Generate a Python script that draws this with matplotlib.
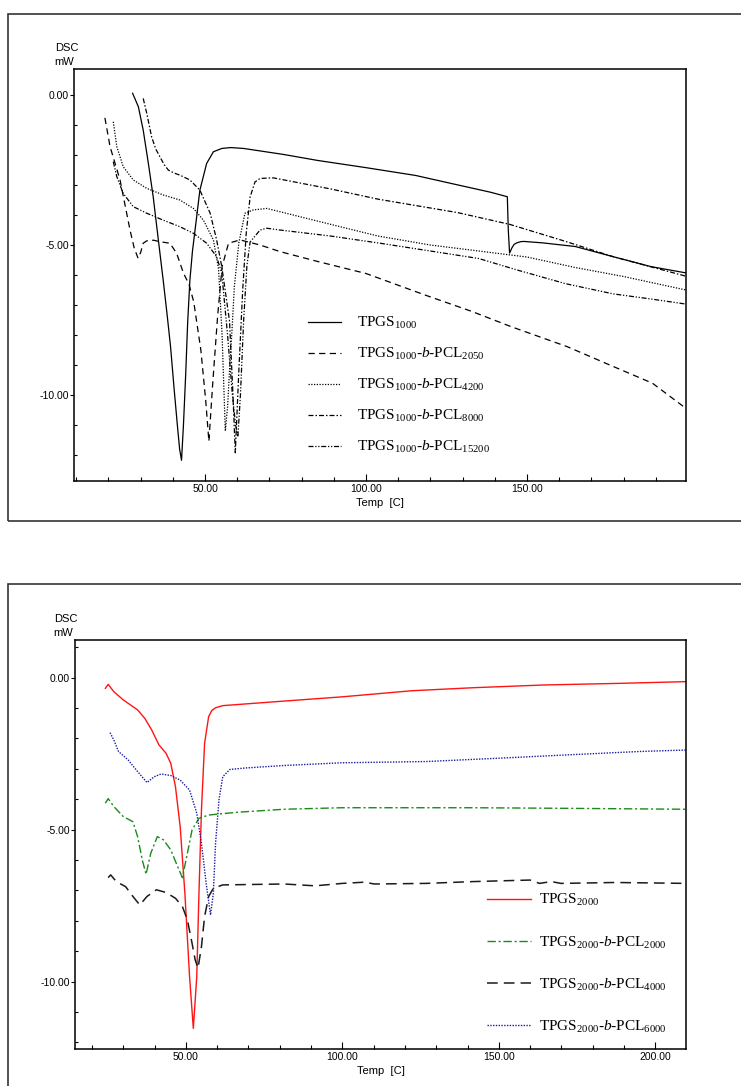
import matplotlib
matplotlib.use("Agg")
import matplotlib.pyplot as plt
from matplotlib.patches import Rectangle
from matplotlib.ticker import MultipleLocator, FixedLocator, FixedFormatter
from matplotlib.font_manager import FontProperties

plt.rcParams['mathtext.fontset'] = 'custom'
plt.rcParams['mathtext.rm'] = 'Liberation Serif'
plt.rcParams['mathtext.it'] = 'Liberation Serif:italic'

# ---------------- top panel: TPGS1000 series ----------------
t_1000 = [27.5, 29.3, 30.8, 32.4, 33.9, 35.5, 37.0, 38.2, 39.3, 40.4, 41.4, 42.1, 42.7,
          43.3, 44.0, 44.6, 45.3, 46.1, 46.9, 48.4, 50.5, 52.6, 55.2, 58.0, 62.0, 74.4,
          85.0, 100.0, 115.4, 127.0, 138.7, 143.9, 144.2, 144.6, 145.3, 146.0, 146.8,
          148.0, 149.0, 155.0, 165.0, 176.8, 188.5, 199.4]
d_1000 = [0.06, -0.39, -1.17, -2.28, -3.39, -4.83, -6.17, -7.3, -8.4, -9.8, -11.0, -11.8, -12.18,
          -11.0, -9.3, -7.6, -6.17, -5.2, -4.5, -3.17, -2.28, -1.89, -1.78, -1.75, -1.78, -1.98,
          -2.18, -2.42, -2.68, -2.96, -3.24, -3.39, -4.5, -5.27, -5.1, -4.98, -4.93,
          -4.89, -4.88, -4.93, -5.05, -5.39, -5.72, -5.93]

t_2050 = [18.9, 20.5, 23.6, 26.7, 28.0, 29.2, 30.0, 30.8, 31.9, 34.0, 36.0, 39.1, 41.2,
          43.3, 45.0, 46.5, 48.7, 50.2, 51.2, 52.4, 53.9, 55.3, 57.3, 60.9, 67.1, 73.3,
          85.0, 100.0, 118.4, 133.0, 145.0, 162.5, 177.0, 189.0, 199.4]
d_2050 = [-0.76, -1.72, -2.83, -4.5, -5.1, -5.44, -5.25, -4.94, -4.86, -4.84, -4.89, -4.94, -5.28,
          -5.94, -6.3, -6.9, -8.5, -10.17, -11.55, -9.6, -7.39, -5.72, -4.94, -4.83, -5.0, -5.22,
          -5.55, -5.95, -6.67, -7.22, -7.72, -8.39, -9.06, -9.61, -10.45]

t_4200 = [21.5, 22.6, 24.6, 27.7, 31.9, 37.0, 42.2, 46.4, 49.5, 52.6, 54.2, 55.3, 56.3,
          57.0, 57.6, 58.4, 59.1, 60.5, 62.4, 65.0, 69.2, 73.3, 89.0, 103.7, 120.0,
          135.0, 150.0, 165.0, 180.0, 199.4]
d_4200 = [-0.89, -1.72, -2.39, -2.83, -3.11, -3.33, -3.5, -3.78, -4.17, -4.83, -5.8, -8.0, -11.2,
          -10.4, -9.2, -7.8, -6.4, -4.93, -3.94, -3.83, -3.78, -3.89, -4.31, -4.7, -5.0,
          -5.2, -5.4, -5.75, -6.05, -6.5]

t_8000 = [30.8, 31.9, 33.4, 34.7, 36.0, 37.3, 38.6, 40.4, 42.2, 45.3, 48.4, 51.6, 53.6,
          55.2, 57.6, 58.6, 59.4, 60.5, 61.7, 62.8, 64.0, 65.5, 67.1, 71.2, 89.0, 103.7,
          128.5, 144.6, 162.0, 176.8, 199.4]
d_8000 = [-0.11, -0.61, -1.39, -1.8, -2.06, -2.32, -2.5, -2.6, -2.67, -2.83, -3.17, -3.94, -4.83,
          -5.72, -7.53, -9.8, -11.93, -9.2, -6.5, -4.6, -3.4, -2.9, -2.78, -2.76, -3.13, -3.47,
          -3.92, -4.31, -4.88, -5.39, -6.04]

t_15200 = [21.5, 22.6, 24.6, 27.7, 31.9, 37.0, 42.2, 46.4, 50.5, 53.6, 55.2, 57.0, 58.5,
           59.5, 60.2, 61.0, 62.0, 63.0, 64.0, 67.1, 69.2, 73.3, 89.0, 103.7, 120.0,
           135.0, 147.5, 162.0, 176.8, 188.5, 199.4]
d_15200 = [-2.22, -2.72, -3.28, -3.72, -3.94, -4.17, -4.39, -4.61, -4.94, -5.39, -5.94, -8.0, -10.0,
           -11.0, -11.4, -10.0, -7.5, -5.7, -4.9, -4.5, -4.44, -4.5, -4.7, -4.93, -5.2,
           -5.45, -5.85, -6.29, -6.63, -6.8, -6.97]

# ---------------- bottom panel: TPGS2000 series ----------------
t_2000 = [24.3, 25.2, 27.0, 30.0, 34.6, 36.9, 39.1, 41.4, 43.7, 45.2, 46.7, 48.2, 49.7,
          51.2, 52.4, 53.5, 54.2, 55.0, 56.0, 57.3, 58.3, 59.5, 61.8, 81.4, 100.0, 122.2,
          141.9, 164.5, 187.2, 209.9]
d_2000 = [-0.35, -0.22, -0.46, -0.73, -1.06, -1.34, -1.72, -2.21, -2.49, -2.82, -3.59, -4.9, -7.09,
          -9.84, -11.54, -9.84, -7.09, -4.35, -2.16, -1.28, -1.08, -0.99, -0.92, -0.77, -0.63, -0.43,
          -0.33, -0.24, -0.19, -0.13]

t_b2000 = [24.3, 25.2, 27.0, 30.0, 33.1, 34.6, 36.1, 37.3, 38.8, 40.9, 42.9, 45.2, 47.4,
           48.9, 50.5, 52.0, 54.2, 57.3, 66.3, 81.4, 100.0, 111.7, 141.9, 172.1, 209.9]
d_b2000 = [-4.13, -3.98, -4.24, -4.57, -4.74, -5.23, -6.0, -6.47, -5.78, -5.23, -5.34, -5.67, -6.22,
           -6.58, -5.78, -5.01, -4.63, -4.52, -4.43, -4.33, -4.28, -4.28, -4.28, -4.3, -4.33]

t_b4000 = [25.2, 26.0, 27.8, 30.8, 33.1, 35.3, 37.6, 40.6, 43.7, 46.7, 48.9, 50.5, 52.0,
           53.0, 53.9, 55.0, 56.0, 57.3, 58.8, 61.8, 81.4, 91.3, 100.0, 107.1, 110.2,
           126.8, 141.9, 160.0, 163.0, 166.8, 169.8, 187.2, 209.9]
d_b4000 = [-6.58, -6.49, -6.71, -6.88, -7.2, -7.48, -7.2, -6.98, -7.07, -7.26, -7.53, -7.97, -8.74,
           -9.29, -9.56, -8.85, -7.86, -7.2, -6.93, -6.82, -6.79, -6.85, -6.77, -6.73, -6.79,
           -6.77, -6.71, -6.66, -6.77, -6.71, -6.77, -6.74, -6.77]

t_b6000 = [25.8, 27.0, 28.5, 31.6, 34.6, 37.6, 39.9, 42.1, 45.2, 48.2, 51.2, 53.5, 55.0,
           56.5, 57.9, 58.8, 59.5, 60.6, 61.8, 64.1, 69.3, 81.4, 100.0, 126.8, 150.0,
           172.1, 194.8, 209.9]
d_b6000 = [-1.81, -2.05, -2.43, -2.71, -3.09, -3.45, -3.26, -3.17, -3.22, -3.37, -3.7, -4.46, -5.45,
           -6.77, -7.81, -7.09, -5.45, -4.02, -3.26, -3.02, -2.97, -2.89, -2.8, -2.76, -2.65,
           -2.54, -2.43, -2.38]

W, H = 741, 1086


def box(l, t, r, b):
    return [l / W, 1 - b / H, (r - l) / W, (b - t) / H]


fig = plt.figure(figsize=(W / 100, H / 100), dpi=100)

# outer frames around each panel
fig.patches.append(Rectangle((8 / W, 1 - 521 / H), 740 / W, 507 / H, transform=fig.transFigure,
                             fill=False, lw=1.2, ec='#333333'))
fig.patches.append(Rectangle((8 / W, 1 - 1095 / H), 740 / W, 511 / H, transform=fig.transFigure,
                             fill=False, lw=1.2, ec='#333333'))

ax1 = fig.add_axes(box(74, 69, 686, 481))
ax2 = fig.add_axes(box(75, 640, 686, 1049))

lw = 0.9
ax1.plot(t_1000, d_1000, color='black', lw=lw, label=r'TPGS$_{1000}$')
ax1.plot(t_2050, d_2050, color='black', lw=lw, ls=(0, (5, 3.5)),
         label=r'TPGS$_{1000}$-$b$-PCL$_{2050}$')
ax1.plot(t_4200, d_4200, color='black', lw=lw, ls=(0, (1, 1.2)),
         label=r'TPGS$_{1000}$-$b$-PCL$_{4200}$')
ax1.plot(t_8000, d_8000, color='black', lw=lw, ls=(0, (4, 1.6, 1.2, 1.6)),
         label=r'TPGS$_{1000}$-$b$-PCL$_{8000}$')
ax1.plot(t_15200, d_15200, color='black', lw=lw, ls=(0, (4, 1.4, 1, 1.4, 1, 1.4)),
         label=r'TPGS$_{1000}$-$b$-PCL$_{15200}$')

ax2.plot(t_2000, d_2000, color='#ff1414', lw=1.0, label=r'TPGS$_{2000}$')
ax2.plot(t_b2000, d_b2000, color='#1a8a1a', lw=1.0, ls=(0, (6, 2, 1.5, 2)),
         label=r'TPGS$_{2000}$-$b$-PCL$_{2000}$')
ax2.plot(t_b4000, d_b4000, color='#1a1a1a', lw=1.1, ls=(0, (7, 4)),
         label=r'TPGS$_{2000}$-$b$-PCL$_{4000}$')
ax2.plot(t_b6000, d_b6000, color='#1a1aa0', lw=1.0, ls=(0, (1, 1)),
         label=r'TPGS$_{2000}$-$b$-PCL$_{6000}$')

ax1.set_xlim(9.3, 199.4)
ax1.set_ylim(-12.87, 0.87)
ax2.set_xlim(14.6, 209.8)
ax2.set_ylim(-12.22, 1.24)

tickfont = {'family': 'Liberation Sans', 'size': 7.5}
headfont = {'family': 'Liberation Sans', 'size': 8}
for ax, xt in [(ax1, [50, 100, 150]), (ax2, [50, 100, 150, 200])]:
    ax.xaxis.set_major_locator(FixedLocator(xt))
    ax.xaxis.set_major_formatter(FixedFormatter(['%.2f' % v for v in xt]))
    ax.xaxis.set_minor_locator(MultipleLocator(10))
    ax.yaxis.set_major_locator(FixedLocator([-10, -5, 0]))
    ax.yaxis.set_major_formatter(FixedFormatter(['-10.00', '-5.00', '0.00']))
    ax.yaxis.set_minor_locator(MultipleLocator(1))
    ax.tick_params(axis='x', which='major', direction='in', length=5, width=0.8, pad=2)
    ax.tick_params(axis='x', which='minor', direction='in', length=3, width=0.8)
    ax.tick_params(axis='y', which='major', direction='out', length=3, width=0.8, pad=0.5)
    ax.tick_params(axis='y', which='minor', direction='in', length=2, width=0.8)
    for lab in ax.get_xticklabels() + ax.get_yticklabels():
        lab.set_fontfamily('Liberation Sans')
        lab.set_fontsize(7.5)
    for sp in ax.spines.values():
        sp.set_linewidth(1.1)
    ax.set_xlabel('Temp  [C]', fontdict=headfont, labelpad=3)

fig.text(67 / W, 1 - 48 / H, 'DSC', ha='center', va='center', **headfont)
fig.text(64 / W, 1 - 62 / H, 'mW', ha='center', va='center', **headfont)
fig.text(66 / W, 1 - 619 / H, 'DSC', ha='center', va='center', **headfont)
fig.text(63 / W, 1 - 633 / H, 'mW', ha='center', va='center', **headfont)

legfont = FontProperties(family='Liberation Serif', size=11)
ax1.legend(loc='upper left', bbox_to_anchor=(0.382, 0.403), frameon=False, prop=legfont,
           handlelength=2.2, handletextpad=1.0, labelspacing=0.98, borderpad=0,
           borderaxespad=0)
ax2.legend(loc='upper left', bbox_to_anchor=(0.674, 0.383), frameon=False, prop=legfont,
           handlelength=2.9, handletextpad=0.5, labelspacing=1.7, borderpad=0,
           borderaxespad=0)

fig.savefig('out.png', dpi=100)
